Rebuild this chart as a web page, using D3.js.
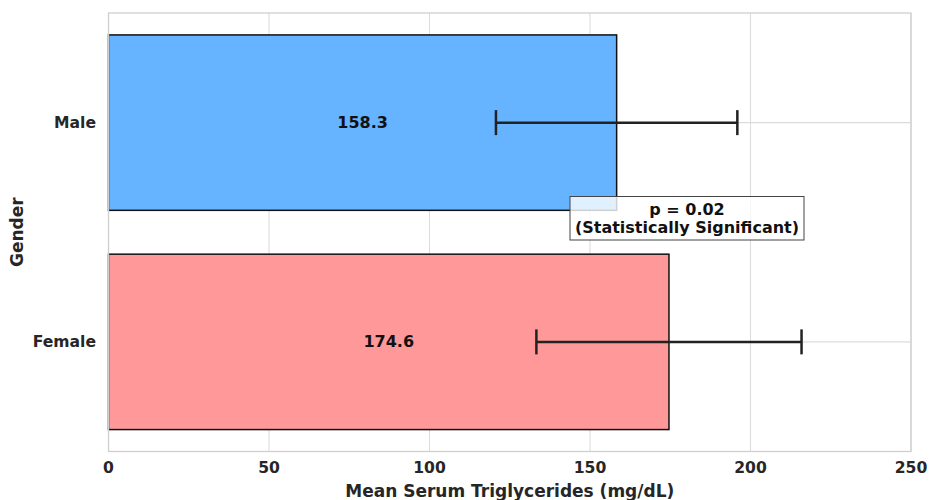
<!DOCTYPE html>
<html><head><meta charset="utf-8">
<script src="https://cdn.jsdelivr.net/npm/d3@7"></script>
<style>body{margin:0;background:#fff}svg{display:block}text{font-family:"DejaVu Sans",sans-serif;font-weight:bold}</style>
</head><body><svg id="c" width="929" height="500"></svg>
<script>
const categories = ["Male", "Female"];
const means = [158.3, 174.6];
const errors = [37.6, 41.3];
const colors = ["#66b3ff", "#ff9999"];
const xTicks = [0, 50, 100, 150, 200, 250];
const annotation = ["p = 0.02", "(Statistically Significant)"];

const svg = d3.select("#c");
const L = 108.5, R = 911, T = 13, B = 451.5;
const x = d3.scaleLinear().domain([0, 250]).range([L, R]);
const y = d3.scaleBand().domain(categories).range([T, B]).paddingInner(0.2).paddingOuter(0.1);

// grid
svg.append("g").selectAll("line").data(xTicks).join("line")
  .attr("x1", d => x(d)).attr("x2", d => x(d)).attr("y1", T).attr("y2", B)
  .attr("stroke", "#dcdcdc").attr("stroke-width", 1.1);
svg.append("g").selectAll("line").data(categories).join("line")
  .attr("x1", L).attr("x2", R).attr("y1", d => y(d) + y.bandwidth() / 2).attr("y2", d => y(d) + y.bandwidth() / 2)
  .attr("stroke", "#dcdcdc").attr("stroke-width", 1.1);

// bars
svg.append("g").selectAll("rect").data(categories).join("rect")
  .attr("x", x(0)).attr("y", d => y(d))
  .attr("width", (d, i) => x(means[i]) - x(0)).attr("height", y.bandwidth())
  .attr("fill", (d, i) => colors[i]).attr("stroke", "#111").attr("stroke-width", 1.5);

// error bars
const eb = svg.append("g").attr("stroke", "#222").attr("stroke-width", 2.5);
categories.forEach((c, i) => {
  const cy = y(c) + y.bandwidth() / 2;
  eb.append("line").attr("x1", x(means[i] - errors[i])).attr("x2", x(means[i] + errors[i])).attr("y1", cy).attr("y2", cy);
  [means[i] - errors[i], means[i] + errors[i]].forEach(v =>
    eb.append("line").attr("x1", x(v)).attr("x2", x(v)).attr("y1", cy - 12.5).attr("y2", cy + 12.5));
});

// value labels
svg.append("g").selectAll("text").data(categories).join("text")
  .attr("x", (d, i) => x(means[i] / 2)).attr("y", d => y(d) + y.bandwidth() / 2)
  .attr("text-anchor", "middle").attr("dominant-baseline", "central")
  .attr("font-size", 16).attr("fill", "#111").text((d, i) => means[i].toFixed(1));

// spines
svg.append("rect").attr("x", L).attr("y", T).attr("width", R - L).attr("height", B - T)
  .attr("fill", "none").attr("stroke", "#cfcfcf").attr("stroke-width", 1.3);

// x ticks
svg.append("g").selectAll("text").data(xTicks).join("text")
  .attr("x", d => x(d)).attr("y", 468).attr("text-anchor", "middle").attr("dominant-baseline", "central")
  .attr("font-size", 15.6).attr("fill", "#262626").text(d => d);
// y ticks
svg.append("g").selectAll("text").data(categories).join("text")
  .attr("x", 96).attr("y", d => y(d) + y.bandwidth() / 2).attr("text-anchor", "end").attr("dominant-baseline", "central")
  .attr("font-size", 15.6).attr("fill", "#262626").text(d => d);

// axis labels
svg.append("text").attr("x", (L + R) / 2).attr("y", 491).attr("text-anchor", "middle").attr("dominant-baseline", "central")
  .attr("font-size", 17).attr("fill", "#262626").text("Mean Serum Triglycerides (mg/dL)");
svg.append("text").attr("transform", `translate(17,${(T + B) / 2}) rotate(-90)`).attr("text-anchor", "middle")
  .attr("dominant-baseline", "central").attr("font-size", 17).attr("fill", "#262626").text("Gender");

// annotation
const ax = 687, ay = 218.5;
svg.append("rect").attr("x", 570).attr("y", 196.5).attr("width", 234).attr("height", 43.5)
  .attr("fill", "#fff").attr("fill-opacity", 0.8).attr("stroke", "#444").attr("stroke-width", 1);
svg.append("g").selectAll("text").data(annotation).join("text")
  .attr("x", ax).attr("y", (d, i) => ay - 9 + i * 18).attr("text-anchor", "middle").attr("dominant-baseline", "central")
  .attr("font-size", 16).attr("fill", "#111").text(d => d);
</script></body></html>
